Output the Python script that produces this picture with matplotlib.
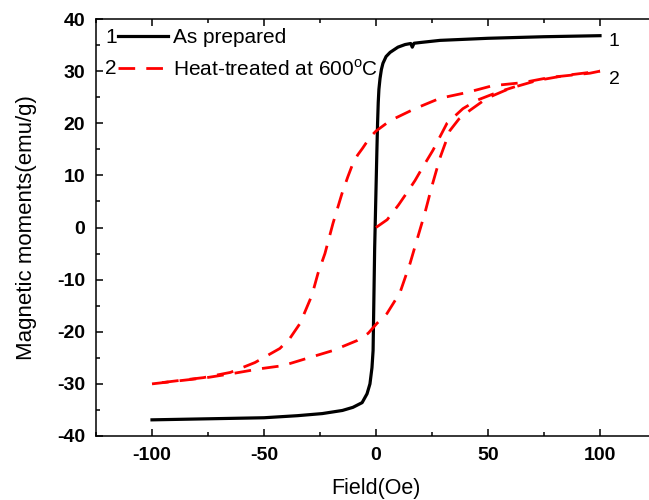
import matplotlib
matplotlib.use("Agg")
import matplotlib.pyplot as plt
from matplotlib.ticker import MultipleLocator

plt.rcParams['font.family'] = ['Liberation Sans', 'DejaVu Sans']
plt.rcParams['mathtext.fontset'] = 'custom'
plt.rcParams['mathtext.rm'] = 'Liberation Sans'
plt.rcParams['axes.unicode_minus'] = False

# sample 1: as prepared (narrow loop, drawn as one sweep)
field_1 = [-100, -75, -50, -35, -24, -15, -10.3, -6.2, -4, -2.7, -1.8, -1.3,
           -0.6, 0.4, 0.7, 1.0, 1.3, 1.8, 2.4, 3.1, 4.5, 6.3, 9.8, 13, 15.5,
           16.2, 17, 20, 28.6, 50, 75, 100]
moment_1 = [-36.9, -36.7, -36.5, -36.1, -35.7, -35.1, -34.5, -33.6, -31.9,
            -30.0, -26.9, -23.6, -4, 14.8, 20, 24, 26.5, 28.6, 30.3, 31.5,
            32.8, 33.6, 34.6, 35.1, 35.3, 34.6, 35.35, 35.5, 35.9, 36.3,
            36.6, 36.8]

# sample 2: heat-treated at 600 C
# initial magnetisation curve
field_2_init = [0, 5, 10, 14, 17.4, 20.5, 25.4, 31.7, 38.8, 45, 54, 62]
moment_2_init = [0, 1.5, 4.3, 6.8, 9, 11.3, 14.8, 20, 22.8, 24.4, 25.9, 27]
# descending branch (+100 -> -100)
field_2_down = [100, 95.5, 77.7, 65.6, 52, 40.6, 28.6, 17.4, 6.3, 0, -2.7, -6,
                -8.2, -10.3, -12.6, -15.2, -19.2, -22.8, -25.9, -28.6, -33.9,
                -38.5, -42.9, -54, -65, -77, -88.8, -100]
moment_2_down = [30, 29.6, 28.8, 27.8, 27.2, 25.9, 24.8, 22.8, 20.5, 18.5,
                 17.3, 15.2, 13.9, 12.3, 9.7, 6.5, 0.8, -5, -8.8, -13, -18.4,
                 -21.3, -23.2, -25.9, -27.8, -28.8, -29.4, -30]
# ascending branch (-100 -> +100)
field_2_up = [-100, -75.5, -63.8, -51.8, -41.5, -30.8, -19.2, -8.5, -3.5, 0.4,
              4.9, 10.7, 15.2, 18.2, 21.9, 25, 28.6, 33, 37, 42, 49.5, 59.8,
              71.9, 85, 100]
moment_2_up = [-30, -28.8, -28, -27.1, -26.5, -25.1, -23.6, -21.7, -20.3,
               -18.4, -16.5, -12.5, -6.9, -2.5, 2.9, 8, 13.4, 18.6, 20.8, 22.5,
               24.8, 26.7, 28.2, 29.2, 30]

fig = plt.figure(figsize=(6.49, 5.0), dpi=100)
ax = fig.add_axes([96 / 649, 64 / 500, 560 / 649, 417 / 500])

red_style = dict(color='red', lw=2.0, dashes=(6, 4), solid_capstyle='butt')
ln1, = ax.plot(field_1, moment_1, color='black', lw=2.3)
ln2, = ax.plot(field_2_down, moment_2_down, **red_style)
ax.plot(field_2_up, moment_2_up, **red_style)
ax.plot(field_2_init, moment_2_init, **red_style)

ax.text(field_1[-1] + 4, moment_1[-1] - 1.2, '1', fontsize=14, va='center')
ax.text(field_2_down[0] + 4, moment_2_down[0] - 1.6, '2', fontsize=14, va='center')

ax.set_xlim(-125, 125)
ax.set_ylim(-40, 40)
ax.xaxis.set_major_locator(MultipleLocator(50))
ax.xaxis.set_minor_locator(MultipleLocator(25))
ax.yaxis.set_major_locator(MultipleLocator(10))
ax.yaxis.set_minor_locator(MultipleLocator(5))
ax.tick_params(which='both', direction='in', top=True, right=False, width=1.1)
ax.tick_params(which='major', length=5, pad=8)
ax.tick_params(which='minor', length=3)
for lab in ax.get_xticklabels() + ax.get_yticklabels():
    lab.set_fontweight('bold')
    lab.set_fontsize(14)
for sp in ax.spines.values():
    sp.set_linewidth(1.1)
ax.spines['right'].set_visible(False)

ax.set_xlabel('Field(Oe)', fontsize=15.5, labelpad=10)
ax.set_ylabel('Magnetic moments(emu/g)', fontsize=16, labelpad=14)

leg = ax.legend([ln1, ln2], ['As prepared', r'Heat-treated at 600$^{\rm o}$C'],
                loc='upper left', bbox_to_anchor=(0.039, 0.978), frameon=False,
                fontsize=15, handlelength=2.4, handletextpad=0.25,
                labelspacing=0.55, borderpad=0, borderaxespad=0)
ax.text(0.016, 0.955, '1', transform=ax.transAxes, fontsize=15, va='center')
ax.text(0.016, 0.881, '2', transform=ax.transAxes, fontsize=15, va='center')

fig.savefig('out.png', dpi=100)
